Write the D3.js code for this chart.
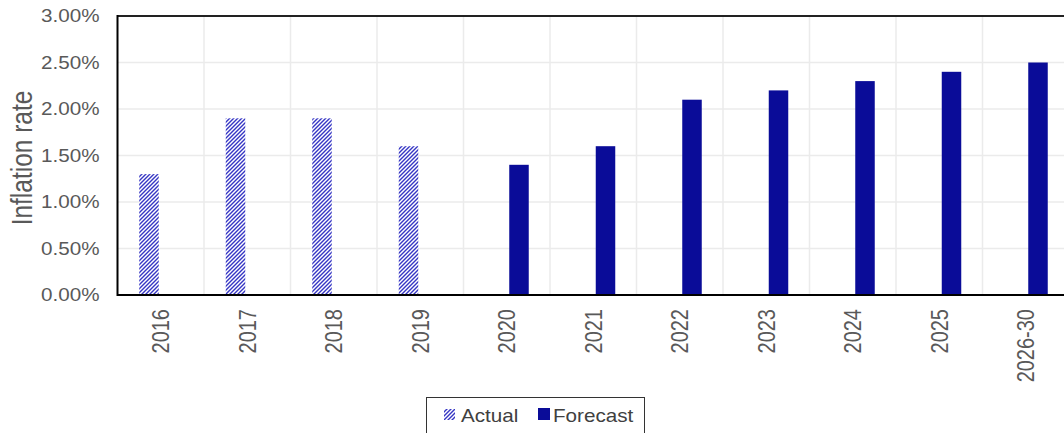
<!DOCTYPE html>
<html>
<head>
<meta charset="utf-8">
<script src="https://cdn.jsdelivr.net/npm/d3@7"></script>
<style>
  body { margin: 0; background: #fff; }
  svg { display: block; font-family: "Liberation Sans", Arial, sans-serif; }
</style>
</head>
<body>
<div id="chart"></div>
<script>
// chart data
var years    = ["2016", "2017", "2018", "2019", "2020", "2021", "2022", "2023", "2024", "2025", "2026-30"];
var actual   = [0.013, 0.019, 0.019, 0.016, null, null, null, null, null, null, null];
var forecast = [null, null, null, null, 0.014, 0.016, 0.021, 0.022, 0.023, 0.024, 0.025];
var yTicks   = [0, 0.005, 0.01, 0.015, 0.02, 0.025, 0.03];

var width = 1064, height = 433;
var plotLeft = 117.5, plotTop = 16, plotBottom = 295;
var bandW = 86.5;
var stretch = 1.18;   // text in the original looks a bit wide

var svg = d3.select("#chart").append("svg")
    .attr("width", width)
    .attr("height", height);

// hatch for actual values
var defs = svg.append("defs");
var pat = defs.append("pattern")
    .attr("id", "hatch")
    .attr("patternUnits", "userSpaceOnUse")
    .attr("width", 4)
    .attr("height", 4);
pat.append("rect").attr("width", 4).attr("height", 4).attr("fill", "#fff");
pat.append("path")
    .attr("d", "M-1,1 l2,-2 M0,4 l4,-4 M3,5 l2,-2")
    .attr("stroke", "#3535c4")
    .attr("stroke-width", 1.4);

var x = d3.scaleBand().domain(years).range([plotLeft, plotLeft + bandW * years.length]);
var y = d3.scaleLinear().domain([0, 0.03]).range([plotBottom, plotTop]);

// gridlines
var grid = svg.append("g").attr("stroke", "#ebebeb").attr("stroke-width", 1.5);
grid.selectAll("line.h").data(yTicks.slice(1)).enter().append("line")
    .attr("x1", plotLeft).attr("x2", width)
    .attr("y1", function(d) { return y(d); })
    .attr("y2", function(d) { return y(d); });
grid.selectAll("line.v").data(years.slice(1)).enter().append("line")
    .attr("x1", function(d) { return x(d); })
    .attr("x2", function(d) { return x(d); })
    .attr("y1", plotTop).attr("y2", plotBottom);

// bars
var barW = 19.5;
svg.append("g").selectAll("rect")
    .data(years.filter(function(d, i) { return actual[i] != null; }))
    .enter().append("rect")
    .attr("x", function(d) { return x(d) + x.bandwidth() / 2 - 21.5; })
    .attr("y", function(d) { return y(actual[years.indexOf(d)]); })
    .attr("width", barW)
    .attr("height", function(d) { return plotBottom - y(actual[years.indexOf(d)]); })
    .attr("fill", "url(#hatch)");

svg.append("g").selectAll("rect")
    .data(years.filter(function(d, i) { return forecast[i] != null; }))
    .enter().append("rect")
    .attr("x", function(d) { return x(d) + x.bandwidth() / 2 + 2.5; })
    .attr("y", function(d) { return y(forecast[years.indexOf(d)]); })
    .attr("width", barW)
    .attr("height", function(d) { return plotBottom - y(forecast[years.indexOf(d)]); })
    .attr("fill", "#0a0c98");

// frame
svg.append("line").attr("x1", plotLeft).attr("x2", width).attr("y1", plotTop).attr("y2", plotTop)
    .attr("stroke", "#222").attr("stroke-width", 2);
svg.append("line").attr("x1", plotLeft).attr("x2", width).attr("y1", plotBottom).attr("y2", plotBottom)
    .attr("stroke", "#000").attr("stroke-width", 2);
svg.append("line").attr("x1", plotLeft).attr("x2", plotLeft).attr("y1", plotTop - 1).attr("y2", plotBottom + 1)
    .attr("stroke", "#000").attr("stroke-width", 2);

// y axis labels
var fmt = d3.format(".2%");
svg.append("g").selectAll("text")
    .data(yTicks).enter().append("text")
    .attr("transform", function(d) { return "translate(99.5," + y(d) + ") scale(" + stretch + ",1)"; })
    .attr("text-anchor", "end")
    .attr("dy", "0.35em")
    .attr("font-size", 17.5)
    .attr("fill", "#595959")
    .text(fmt);

// x axis labels
svg.append("g").selectAll("text")
    .data(years).enter().append("text")
    .attr("transform", function(d) {
        return "translate(" + (x(d) + x.bandwidth() / 2) + ",309) scale(" + stretch + ",1) rotate(-90)";
    })
    .attr("text-anchor", "end")
    .attr("dy", "0.35em")
    .attr("font-size", 20)
    .attr("fill", "#595959")
    .text(function(d) { return d; });

// y title
svg.append("text")
    .attr("transform", "translate(22,158) scale(" + stretch + ",1) rotate(-90)")
    .attr("text-anchor", "middle")
    .attr("dy", "0.35em")
    .attr("font-size", 24.5)
    .attr("fill", "#595959")
    .text("Inflation rate");

// legend
var lg = svg.append("g");
lg.append("rect").attr("x", 426.5).attr("y", 397.5).attr("width", 218).attr("height", 50)
    .attr("fill", "#fff").attr("stroke", "#333").attr("stroke-width", 1);
lg.append("rect").attr("x", 444).attr("y", 409).attr("width", 11).attr("height", 11)
    .attr("fill", "url(#hatch)");
lg.append("text").attr("transform", "translate(461,422) scale(" + stretch + ",1)")
    .attr("font-size", 17.5).attr("fill", "#404040").text("Actual");
lg.append("rect").attr("x", 538).attr("y", 408).attr("width", 12).attr("height", 12)
    .attr("fill", "#0a0c98");
lg.append("text").attr("transform", "translate(553,422) scale(" + stretch + ",1)")
    .attr("font-size", 17.5).attr("fill", "#404040").text("Forecast");
</script>
</body>
</html>
